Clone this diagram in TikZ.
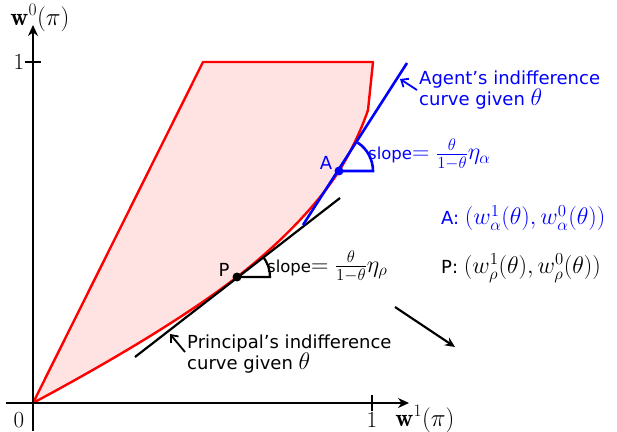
\documentclass[tikz,border=0pt]{standalone}
\usepackage{fix-cm}
\usepackage{fontspec}
\setsansfont{DejaVu Sans}
\usetikzlibrary{arrows.meta}
\newcommand\bigmath[1]{{\fontsize{24}{28}\selectfont$#1$}}
\tikzset{
  lbl/.style={font=\sffamily\fontsize{18}{21}\selectfont, inner sep=0pt},
  slopelbl/.style={font=\sffamily\fontsize{16.5}{19}\selectfont, inner sep=0pt},
  axlbl/.style={font=\fontsize{25}{28}\selectfont, inner sep=0pt},
  numlbl/.style={font=\fontsize{23}{26}\selectfont, inner sep=0pt},
  axis/.style={line width=2.8pt, -{Stealth[length=11pt,width=10pt]}},
  region/.style={draw=red, line width=2.4pt, fill=red!11, line join=round},
  dot/.style={circle, fill, inner sep=0pt, minimum size=9pt},
  note/.style={line width=1.8pt, -{Straight Barb[length=6pt,width=10pt]}},
}
\begin{document}
\begin{tikzpicture}[x=1pt,y=1pt]
\useasboundingbox (0,0) rectangle (617,431);
% key coordinates
\coordinate (O) at (33,28);
\coordinate (T) at (203,369);
\coordinate (R) at (373,369);
\coordinate (Q) at (368,321);
\coordinate (A) at (339,260);
\coordinate (P) at (237,154);
% region
\path[region] (O) -- (T) -- (R) -- (Q)
  .. controls (362,303) and (351,279) .. (A)
  .. controls (314,221) and (272,181) .. (P)
  .. controls (180,110) and (100,64) .. (O) -- cycle;
% axes
\coordinate (ybot) at (33,0);
\coordinate (ytop) at (33,406);
\coordinate (xl) at (6,28);
\coordinate (xr) at (409,28);
\draw[axis] (ybot) -- (ytop);
\draw[axis] (xl) -- (xr);
\coordinate (xt1) at (372,20);
\coordinate (xt2) at (372,36);
\coordinate (yt1) at (25,369);
\coordinate (yt2) at (41,369);
\draw[line width=1.6pt] (xt1) -- (xt2);
\draw[line width=1.6pt] (yt1) -- (yt2);
\node[numlbl] (x1) at (372,11) {$1$};
\node[numlbl] (zero) at (19,11) {$0$};
\node[numlbl] (y1) at (19,369) {$1$};
\node[axlbl] (ylab) at (40,413) {$\mathbf{w}^0(\pi)$};
\node[axlbl] (xlab) at (425,12) {$\mathbf{w}^1(\pi)$};
% principal tangent
\coordinate (pt1) at (135,74);
\coordinate (pt2) at (340,233);
\draw[line width=2.2pt] (pt1) -- (pt2);
% agent tangent
\coordinate (at1) at (303,206);
\coordinate (at2) at (407,368);
\draw[blue, line width=2.6pt] (at1) -- (at2);
% angle marks
\coordinate (Ah) at (373,260);
\draw[blue, line width=2.6pt] (A) -- (Ah) arc[start angle=0, end angle=57, radius=34];
\coordinate (Ph) at (270,154);
\draw[line width=2.2pt] (P) -- (Ph) arc[start angle=0, end angle=38, radius=33];
% dots
\node[dot, blue] (Ad) at (A) {};
\node[dot] (Pd) at (P) {};
\node[lbl, blue] (Alab) at (326,268) {A};
\node[lbl] (Plab) at (224,161) {P};
% slope labels
\node[slopelbl, blue, anchor=base west] (sA) at (368,271) {slope\bigmath{=\frac{\theta}{1-\theta}\eta_\alpha}};
\node[slopelbl, anchor=base west] (sP) at (267,159) {slope\bigmath{=\frac{\theta}{1-\theta}\eta_\rho}};
% agent note
\node[lbl, blue, anchor=north west, align=left] (agent) at (419,360) {Agent's indifference\\curve given \bigmath{\theta}};
\coordinate (agtail) at (417,341);
\coordinate (agtip) at (400,352);
\draw[note, blue] (agtail) -- (agtip);
% principal note
\node[lbl, anchor=north west, align=left] (princ) at (187,96) {Principal's indifference\\curve given \bigmath{\theta}};
\coordinate (prtail) at (185,79);
\coordinate (prtip) at (170,97);
\draw[note] (prtail) -- (prtip);
% legend
\node[lbl, blue, anchor=west] (legA) at (441,213) {A: \bigmath{(w^1_\alpha(\theta), w^0_\alpha(\theta))}};
\node[lbl, anchor=west] (legP) at (441,163) {P: \bigmath{(w^1_\rho(\theta), w^0_\rho(\theta))}};
% loose arrow
\coordinate (ar1) at (395,124);
\coordinate (ar2) at (455,84);
\draw[line width=2.2pt, -{Stealth[length=10pt,width=9pt]}] (ar1) -- (ar2);
\end{tikzpicture}
\end{document}
